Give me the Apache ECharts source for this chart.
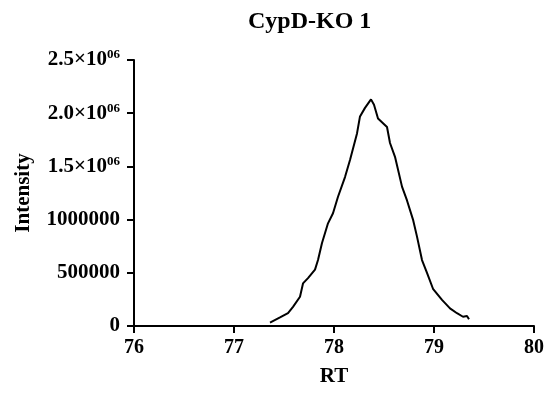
<!DOCTYPE html>
<html>
<head>
<meta charset="utf-8">
<script src="https://cdn.jsdelivr.net/npm/echarts@6/dist/echarts.min.js"></script>
<style>
  html, body { margin: 0; padding: 0; background: #fff; }
  #chart { width: 557px; height: 396px; }
</style>
</head>
<body>
<div id="chart"></div>
<script>
// retention time (min) and intensity
const rt = [77.36, 77.46, 77.54, 77.59, 77.66, 77.69, 77.74, 77.81, 77.84, 77.88, 77.94, 77.99,
  78.04, 78.11, 78.16, 78.23, 78.26, 78.31, 78.37, 78.40, 78.44, 78.53, 78.56, 78.61, 78.68,
  78.73, 78.79, 78.83, 78.88, 78.93, 78.99, 79.08, 79.16, 79.23, 79.29, 79.33, 79.35];
const intensity = [31000, 80000, 120000, 180000, 275000, 400000, 450000, 530000, 620000, 780000,
  965000, 1060000, 1215000, 1400000, 1560000, 1810000, 1970000, 2050000, 2130000, 2080000,
  1950000, 1870000, 1720000, 1590000, 1310000, 1180000, 1000000, 840000, 620000, 500000,
  350000, 245000, 166000, 120000, 87000, 94000, 63000];
const xTicks = [76, 77, 78, 79, 80];
const yTicks = [0, 500000, 1000000, 1500000, 2000000, 2500000];

const points = rt.map((t, i) => [t, intensity[i]]);
const font = '"Liberation Serif", "Times New Roman", serif';

const chart = echarts.init(document.getElementById('chart'));
chart.setOption({
  animation: false,
  backgroundColor: '#fff',
  title: {
    text: 'CypD-KO 1',
    left: 243,
    top: 5,
    textStyle: { fontFamily: font, fontWeight: 'bold', fontSize: 24, color: '#000' }
  },
  grid: { left: 134, right: 23, top: 60, bottom: 70, outerBoundsMode: 'none' },
  xAxis: {
    type: 'value',
    min: xTicks[0],
    max: xTicks[xTicks.length - 1],
    interval: 1,
    name: 'RT',
    nameLocation: 'middle',
    nameGap: 40,
    nameTextStyle: { fontFamily: font, fontWeight: 'bold', fontSize: 21, color: '#000' },
    axisLine: { lineStyle: { color: '#000', width: 2 } },
    axisTick: { length: 7, lineStyle: { color: '#000', width: 2 } },
    axisLabel: { fontFamily: font, fontWeight: 'bold', fontSize: 20, color: '#000', margin: 12 },
    splitLine: { show: false }
  },
  yAxis: {
    type: 'value',
    min: yTicks[0],
    max: yTicks[yTicks.length - 1],
    interval: 500000,
    name: 'Intensity',
    nameLocation: 'middle',
    nameRotate: 90,
    nameGap: 100,
    nameTextStyle: { fontFamily: font, fontWeight: 'bold', fontSize: 21, color: '#000' },
    axisLine: { show: true, lineStyle: { color: '#000', width: 2 } },
    axisTick: { show: true, length: 7, lineStyle: { color: '#000', width: 2 } },
    axisLabel: {
      margin: 14,
      formatter: v => {
        if (v >= 1500000) return '{m|' + (v / 1e6).toFixed(1) + '×10}{s|06}';
        return '{m|' + v + '}';
      },
      rich: {
        m: { fontFamily: font, fontWeight: 'bold', fontSize: 21, color: '#000' },
        s: { fontFamily: font, fontWeight: 'bold', fontSize: 13, color: '#000', verticalAlign: 'top', padding: [0, 0, 10, 0] }
      }
    },
    splitLine: { show: false }
  },
  series: [{
    type: 'line',
    data: points,
    showSymbol: false,
    lineStyle: { color: '#000', width: 2 }
  }]
});
</script>
</body>
</html>
